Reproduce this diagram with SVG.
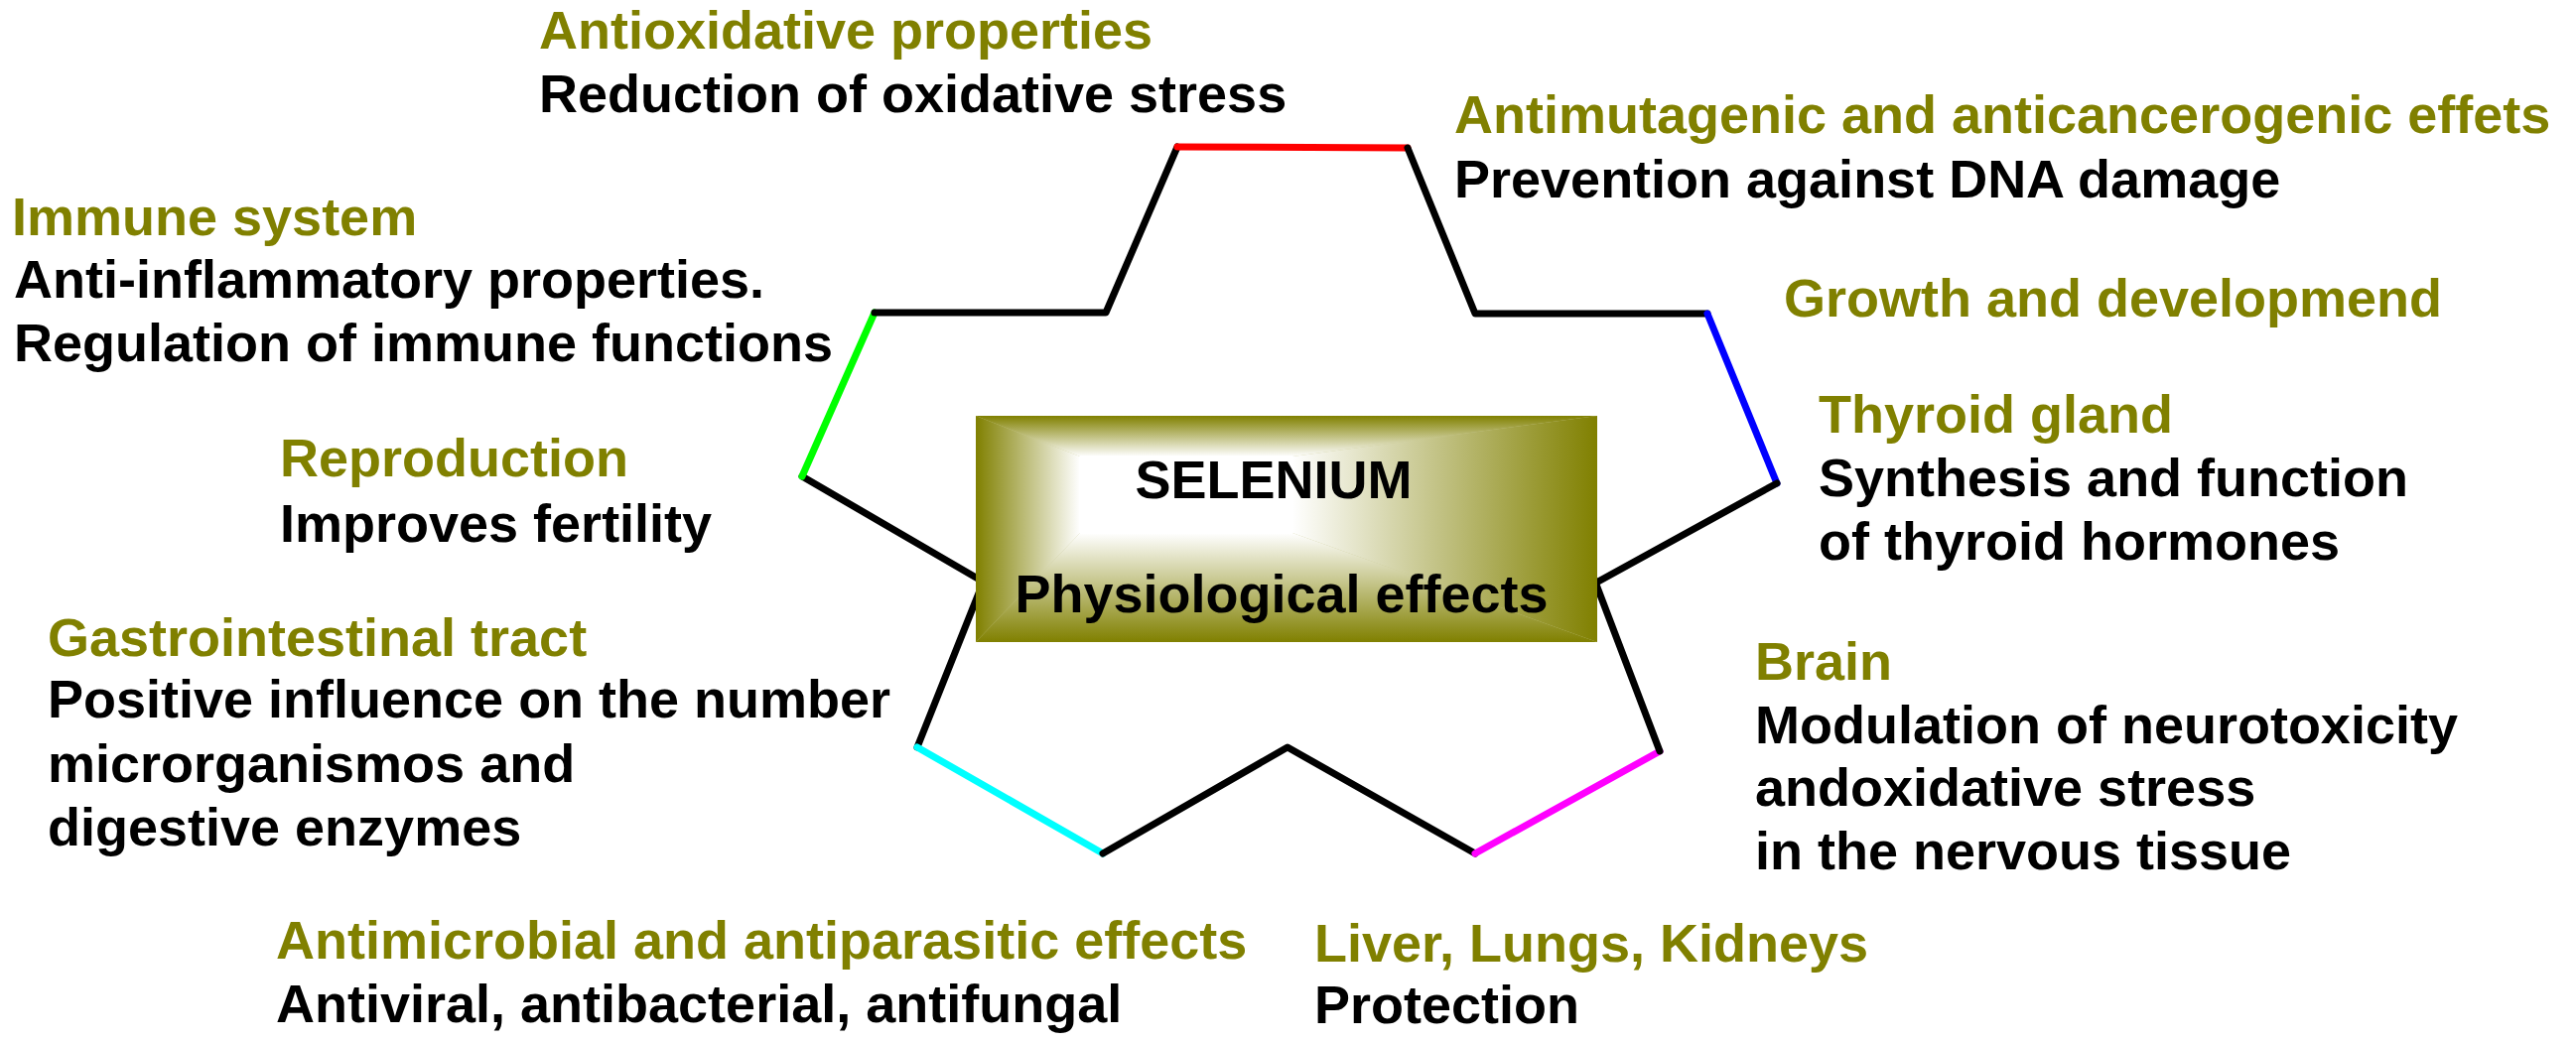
<svg xmlns="http://www.w3.org/2000/svg" width="2595" height="1051" viewBox="0 0 2595 1051">
<style>
text{font-family:"Liberation Sans",Arial,sans-serif;font-weight:bold;font-size:54px}
.h{fill:#808000}
.b{fill:#000}
.c{text-anchor:middle}
.ln{fill:none;stroke-width:7;stroke-linecap:round;stroke-linejoin:round}
</style>
<defs>
<linearGradient id="gT" x1="0" y1="419" x2="0" y2="460" gradientUnits="userSpaceOnUse"><stop offset="0" stop-color="#808000"/><stop offset="1" stop-color="#fff"/></linearGradient>
<linearGradient id="gB" x1="0" y1="647" x2="0" y2="537" gradientUnits="userSpaceOnUse"><stop offset="0" stop-color="#808000"/><stop offset="1" stop-color="#fff"/></linearGradient>
<linearGradient id="gL" x1="983" y1="0" x2="1088" y2="0" gradientUnits="userSpaceOnUse"><stop offset="0" stop-color="#808000"/><stop offset="1" stop-color="#fff"/></linearGradient>
<linearGradient id="gR" x1="1609" y1="0" x2="1302" y2="0" gradientUnits="userSpaceOnUse"><stop offset="0" stop-color="#808000"/><stop offset="1" stop-color="#fff"/></linearGradient>
</defs>
<rect width="2595" height="1051" fill="#fff"/>
<g id="connectors">
<path class="ln" stroke="#000" d="M1040,615 L808,480"/>
<path class="ln" stroke="#00ff00" d="M808,480 L881,315"/>
<path class="ln" stroke="#000" d="M881,315 L1114,315 L1186,148"/>
<path class="ln" stroke="#ff0000" d="M1186,148 L1418,149"/>
<path class="ln" stroke="#000" d="M1418,149 L1486,316 L1720,316"/>
<path class="ln" stroke="#0000ff" d="M1720,316 L1790,487"/>
<path class="ln" stroke="#000" d="M1790,487 L1550,619"/>
<path class="ln" stroke="#000" d="M1001,560 L924,753"/>
<path class="ln" stroke="#00ffff" d="M924,753 L1111,860"/>
<path class="ln" stroke="#000" d="M1111,860 L1297,753 L1486,860"/>
<path class="ln" stroke="#ff00ff" d="M1486,860 L1672,757"/>
<path class="ln" stroke="#000" d="M1672,757 L1597,560"/>
</g>
<g id="center">
<rect x="983" y="419" width="626" height="228" fill="#c8c890"/>
<polygon points="983,419 1609,419 1302,460 1088,460" fill="url(#gT)"/>
<polygon points="983,647 1609,647 1302,537 1088,537" fill="url(#gB)"/>
<polygon points="983,419 1088,460 1088,537 983,647" fill="url(#gL)"/>
<polygon points="1609,419 1302,460 1302,537 1609,647" fill="url(#gR)"/>
<rect x="1087.5" y="459.5" width="215" height="78" fill="#fff"/>
<text class="b c" x="1283" y="502">SELENIUM</text>
<text class="b c" x="1291" y="617">Physiological effects</text>
</g>
<g id="antioxidative">
<text class="h" x="543" y="49">Antioxidative properties</text>
<text class="b" x="543" y="113">Reduction of oxidative stress</text>
</g>
<g id="immune">
<text class="h" x="12" y="237">Immune system</text>
<text class="b" x="14" y="300">Anti-inflammatory properties.</text>
<text class="b" x="14" y="364">Regulation of immune functions</text>
</g>
<g id="reproduction">
<text class="h" x="282" y="480">Reproduction</text>
<text class="b" x="282" y="546">Improves fertility</text>
</g>
<g id="gastro">
<text class="h" x="48" y="661">Gastrointestinal tract</text>
<text class="b" x="48" y="723">Positive influence on the number</text>
<text class="b" x="48" y="788">microrganismos and</text>
<text class="b" x="48" y="852">digestive enzymes</text>
</g>
<g id="antimicrobial">
<text class="h" x="278" y="966">Antimicrobial and antiparasitic effects</text>
<text class="b" x="278" y="1030">Antiviral, antibacterial, antifungal</text>
</g>
<g id="antimutagenic">
<text class="h" x="1465" y="134">Antimutagenic and anticancerogenic effets</text>
<text class="b" x="1465" y="199">Prevention against DNA damage</text>
</g>
<g id="growth">
<text class="h" x="1797" y="319">Growth and developmend</text>
</g>
<g id="thyroid">
<text class="h" x="1832" y="436">Thyroid gland</text>
<text class="b" x="1832" y="500">Synthesis and function</text>
<text class="b" x="1832" y="564">of thyroid hormones</text>
</g>
<g id="brain">
<text class="h" x="1768" y="685">Brain</text>
<text class="b" x="1768" y="749">Modulation of neurotoxicity</text>
<text class="b" x="1768" y="812">andoxidative stress</text>
<text class="b" x="1768" y="876">in the nervous tissue</text>
</g>
<g id="organs">
<text class="h" x="1324" y="969">Liver, Lungs, Kidneys</text>
<text class="b" x="1324" y="1031">Protection</text>
</g>
</svg>
